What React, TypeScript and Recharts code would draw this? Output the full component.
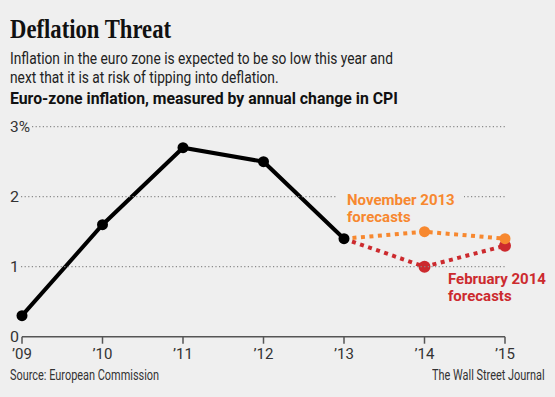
import { LineChart, Line, XAxis, YAxis } from 'recharts';

// values (annual % change in CPI)
const years = [2009, 2010, 2011, 2012, 2013, 2014, 2015];
const actual = [0.3, 1.6, 2.7, 2.5, 1.4, null, null];
const novForecast = [null, null, null, null, 1.4, 1.5, 1.4];
const febForecast = [null, null, null, null, 1.4, 1.0, 1.3];
const yTicks = [0, 1, 2, 3];

const data = years.map((year, i) => ({
    year,
    actual: actual[i],
    nov: novForecast[i],
    feb: febForecast[i],
}));

const BG = '#efefef';
const ORANGE = '#f7882f';
const RED = '#cc2a2e';
const SANS = 'Roboto, sans-serif';

const narrow = (s: number): React.CSSProperties => ({
    transform: `scaleX(${s})`, transformOrigin: 'left top', whiteSpace: 'nowrap',
});

const YTick = ({ y, payload }: any) => {
    const v = payload.value;
    const label = v === 3 ? '3%' : String(v);
    const textW = v === 3 ? 20 : 9;
    return (
        <g>
            <text x={10} y={y} dy={5} fontSize={15} fill="#333" fontFamily={SANS} textLength={textW} lengthAdjust="spacingAndGlyphs">{label}</text>
            {v > 0 && (
                <line x1={10 + textW + 2} x2={505} y1={y} y2={y} stroke="#8a8a8a" strokeWidth={1.2} strokeDasharray="1.2 2.4" />
            )}
        </g>
    );
};

const makeDot = (color: string, r: number, from: number) => (props: any) => {
    const { cx, cy, index } = props;
    if (index < from || cy == null) return <g key={index} />;
    return <circle key={index} cx={cx} cy={cy} r={r} fill={color} />;
};

const labelLine: React.CSSProperties = { fontSize: 15, fontWeight: 700, lineHeight: '17px', height: 17, whiteSpace: 'nowrap' };

export default function App() {
    return (
        <div style={{ position: 'absolute', left: 0, top: 0, width: 555, height: 397, background: BG, overflow: 'hidden', fontFamily: SANS }}>
            <div style={{ position: 'absolute', left: 10, top: 13, fontFamily: '"Liberation Serif", serif', fontWeight: 700, fontSize: 28, color: '#111', ...narrow(0.81) }}>
                Deflation Threat
            </div>
            <div style={{ position: 'absolute', left: 10, top: 49, fontSize: 17, lineHeight: '19px', color: '#222', ...narrow(0.81) }}>
                Inflation in the euro zone is expected to be so low this year and<br />
                next that it is at risk of tipping into deflation.
            </div>
            <div style={{ position: 'absolute', left: 10, top: 88, fontSize: 17, fontWeight: 700, color: '#111', ...narrow(0.93) }}>
                Euro-zone inflation, measured by annual change in CPI
            </div>

            <div style={{ position: 'absolute', left: 0, top: 0 }}>
                <LineChart width={555} height={397} data={data} margin={{ top: 126.7, right: 50, bottom: 30.3, left: 0 }}>
                    <XAxis dataKey="year" type="number" domain={[2009, 2015]} ticks={years} height={30}
                        tickFormatter={(v) => `\u2019${String(v).slice(2)}`}
                        axisLine={{ stroke: '#555', strokeWidth: 1.5 }} tickLine={{ stroke: '#555', strokeWidth: 1.5 }}
                        tickSize={7} tickMargin={5} tick={{ fontSize: 15, fill: '#333', fontFamily: SANS }} />
                    <YAxis domain={[0, 3]} ticks={yTicks} width={22} axisLine={false} tickLine={false} tick={YTick} interval={0} />
                    <Line dataKey="feb" stroke={RED} strokeWidth={4} strokeDasharray="4 4.5" dot={makeDot(RED, 6, 5)} activeDot={false} isAnimationActive={false} connectNulls={false} />
                    <Line dataKey="nov" stroke={ORANGE} strokeWidth={4} strokeDasharray="4 4.5" dot={makeDot(ORANGE, 5.5, 5)} activeDot={false} isAnimationActive={false} connectNulls={false} />
                    <Line dataKey="actual" stroke="#000" strokeWidth={4} dot={makeDot('#000', 5.5, 0)} activeDot={false} isAnimationActive={false} connectNulls={false} />
                </LineChart>
            </div>

            <div style={{ position: 'absolute', left: 337, top: 192, color: ORANGE, background: BG, padding: '0 9px 0 10px' }}>
                <div style={labelLine}>November 2013</div>
                <div style={labelLine}>forecasts</div>
            </div>
            <div style={{ position: 'absolute', left: 448, top: 271, color: RED }}>
                <div style={labelLine}>February 2014</div>
                <div style={labelLine}>forecasts</div>
            </div>

            <div style={{ position: 'absolute', left: 10, top: 367, fontSize: 14, color: '#333', ...narrow(0.78) }}>Source: European Commission</div>
            <div style={{ position: 'absolute', left: 432, top: 367, fontSize: 14, color: '#333', ...narrow(0.78) }}>The Wall Street Journal</div>
        </div>
    );
}
